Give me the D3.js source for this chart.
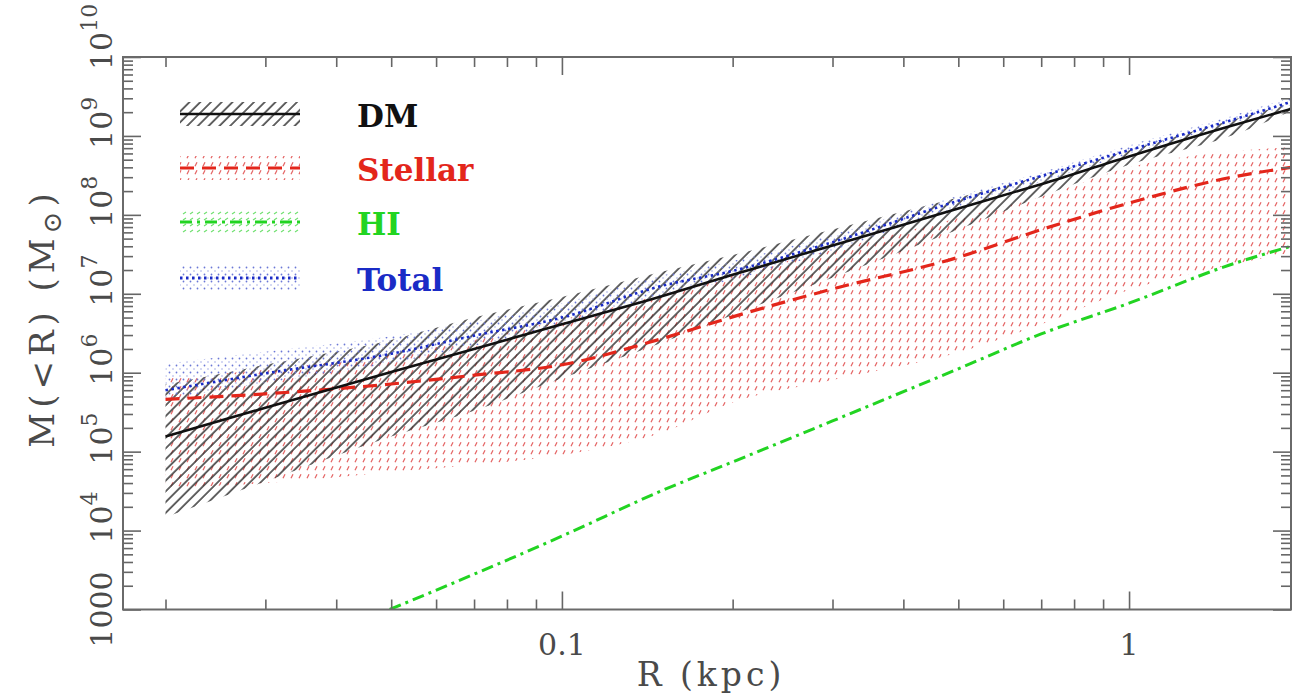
<!DOCTYPE html>
<html><head><meta charset="utf-8">
<script src="https://cdn.jsdelivr.net/npm/d3@7"></script>
<style>body{margin:0;background:#fff} svg{display:block}</style>
</head><body><svg id="c" width="1293" height="695"></svg>
<script>
// ---------- data ----------
const radius      = [0.02, 0.03, 0.05, 0.07, 0.1, 0.15, 0.2, 0.3, 0.5, 0.7, 1.0, 1.5, 1.93];
const dmMass      = [1.55e5, 3.6e5, 1.02e6, 2.0e6, 4.1e6, 9.3e6, 1.74e7, 4.1e7, 1.2e8, 2.45e8, 5.5e8, 1.32e9, 2.2e9];
const dmLow       = [1.48e4, 4.2e4, 1.55e5, 3.3e5, 8.5e5, 2.4e6, 5.4e6, 1.6e7, 6.5e7, 1.7e8, 4.3e8, 9.8e8, 2.05e9];
const dmHigh      = [7.1e5, 1.26e6, 2.6e6, 5.0e6, 9.1e6, 1.9e7, 3.1e7, 6.5e7, 1.66e8, 3.1e8, 6.6e8, 1.55e9, 2.6e9];
const stellarMass = [4.6e5, 5.4e5, 7.2e5, 9.3e5, 1.26e6, 2.7e6, 5.1e6, 1.15e7, 2.9e7, 6.5e7, 1.41e8, 2.95e8, 4.0e8];
const stellarLow  = [3.5e4, 4.0e4, 5.5e4, 6.8e4, 9.1e4, 1.74e5, 4.2e5, 8.1e5, 1.8e6, 4.1e6, 1.12e7, 2.3e7, 3.3e7];
const stellarHigh = [8.5e5, 1.1e6, 1.7e6, 2.6e6, 4.7e6, 9.8e6, 1.74e7, 3.6e7, 9.1e7, 1.7e8, 4.0e8, 6.3e8, 7.2e8];
const totalMass   = [6.0e5, 9.8e5, 1.74e6, 2.95e6, 5.0e6, 1.26e7, 1.95e7, 4.5e7, 1.51e8, 3.1e8, 6.6e8, 1.55e9, 2.7e9];
const totalLow    = [4.6e5, 7.4e5, 1.32e6, 2.2e6, 3.8e6, 9.5e6, 1.5e7, 3.5e7, 1.26e8, 2.6e8, 5.9e8, 1.41e9, 2.45e9];
const totalHigh   = [1.3e6, 1.85e6, 2.9e6, 4.5e6, 7.6e6, 1.7e7, 2.6e7, 5.6e7, 1.75e8, 3.45e8, 7.6e8, 1.75e9, 3.1e9];
const hiRadius    = [0.0497, 0.07, 0.1, 0.15, 0.2, 0.3, 0.5, 0.7, 1.0, 1.5, 1.93];
const hiMass      = [1.0e3, 2.8e3, 8.5e3, 3.2e4, 7.4e4, 2.45e5, 1.12e6, 3.1e6, 7.6e6, 2.3e7, 4.0e7];

const xTickValues = [0.1, 1];
const xTickLabels = ["0.1", "1"];
const yTickValues = [1e3, 1e4, 1e5, 1e6, 1e7, 1e8, 1e9, 1e10];
const yTickBase   = ["1000", "10", "10", "10", "10", "10", "10", "10"];
const yTickExp    = ["", "4", "5", "6", "7", "8", "9", "10"];

const legendNames  = ["DM", "Stellar", "HI", "Total"];
const legendColors = ["#111111", "#e3261b", "#22d422", "#1a2bc6"];

// ---------- setup ----------
const svg = d3.select("#c");
const P = {left:123, right:1291, top:57, bottom:609.5};
const x = d3.scaleLog().domain([0.01683, 1.93]).range([P.left, P.right]);
const y = d3.scaleLog().domain([1e3, 1e10]).range([P.bottom, P.top]);

const defs = svg.append("defs");
defs.append("clipPath").attr("id","clip").append("rect")
  .attr("x",P.left).attr("y",P.top).attr("width",P.right-P.left).attr("height",P.bottom-P.top);

const pDM = defs.append("pattern").attr("id","dmHatch").attr("patternUnits","userSpaceOnUse")
  .attr("width",7.6).attr("height",7.6).attr("patternTransform","rotate(45)");
pDM.append("line").attr("x1",1).attr("y1",0).attr("x2",1).attr("y2",7.6)
  .attr("stroke","#333").attr("stroke-width",1.5);

const pSt = defs.append("pattern").attr("id","stHatch").attr("patternUnits","userSpaceOnUse")
  .attr("width",8).attr("height",8);
pSt.append("line").attr("x1",3).attr("y1",6.2).attr("x2",5).attr("y2",2.2)
  .attr("stroke","#e46464").attr("stroke-width",1.3);

const pTo = defs.append("pattern").attr("id","toDots").attr("patternUnits","userSpaceOnUse")
  .attr("width",7).attr("height",7);
pTo.append("circle").attr("cx",1.5).attr("cy",1.5).attr("r",0.9).attr("fill","#6b78d6");
pTo.append("circle").attr("cx",5).attr("cy",5).attr("r",0.7).attr("fill","#8a94e0");

const pHI = defs.append("pattern").attr("id","hiDots").attr("patternUnits","userSpaceOnUse")
  .attr("width",7).attr("height",6);
pHI.append("line").attr("x1",1).attr("y1",4).attr("x2",4).attr("y2",2)
  .attr("stroke","#6ee06e").attr("stroke-width",1.2);

const rows = (m, lo, hi) => radius.map((r,i)=>({r, m:m[i], lo:lo[i], hi:hi[i]}));
const dmRows = rows(dmMass, dmLow, dmHigh);
const stRows = rows(stellarMass, stellarLow, stellarHigh);
const toRows = rows(totalMass, totalLow, totalHigh);
const hiRows = hiRadius.map((r,i)=>({r, m:hiMass[i]}));

const area = d3.area().x(d=>x(d.r)).y0(d=>y(d.lo)).y1(d=>y(d.hi)).curve(d3.curveMonotoneX);
const line = d3.line().x(d=>x(d.r)).y(d=>y(d.m)).curve(d3.curveMonotoneX);

const g = svg.append("g").attr("clip-path","url(#clip)");
g.append("path").datum(stRows).attr("d",area).attr("fill","url(#stHatch)");
g.append("path").datum(dmRows).attr("d",area).attr("fill","url(#dmHatch)");
g.append("path").datum(toRows).attr("d",area).attr("fill","url(#toDots)");

g.append("path").datum(hiRows).attr("d",line).attr("fill","none")
  .attr("stroke","#22d422").attr("stroke-width",3).attr("stroke-dasharray","12 5 3 5");
g.append("path").datum(stRows).attr("d",line).attr("fill","none")
  .attr("stroke","#e3261b").attr("stroke-width",3.2).attr("stroke-dasharray","14 8");
g.append("path").datum(dmRows).attr("d",line).attr("fill","none")
  .attr("stroke","#111").attr("stroke-width",2.6);
g.append("path").datum(toRows).attr("d",line).attr("fill","none")
  .attr("stroke","#1a2bc6").attr("stroke-width",2.6).attr("stroke-dasharray","2.5 3.5");

// ---------- axes (ticks inward on all sides) ----------
const xMinor = [];
[0.01, 0.1, 1].forEach(d => { for (let k=2;k<=9;k++){ const v=k*d; if (v>=0.01683 && v<=1.93) xMinor.push(v);} });
const yMinor = [];
for (let e=3;e<10;e++) for (let k=2;k<=9;k++) yMinor.push(k*Math.pow(10,e));

function styleAxis(sel){
  sel.select(".domain").remove();
  sel.selectAll(".tick line").attr("stroke","#666").attr("stroke-width",1.6);
  sel.selectAll(".tick text").remove();
}
const axes = [
  [d3.axisBottom(x), `translate(0,${P.bottom})`, xTickValues, xMinor],
  [d3.axisTop(x),    `translate(0,${P.top})`,    xTickValues, xMinor],
  [d3.axisLeft(y),   `translate(${P.left},0)`,   yTickValues, yMinor],
  [d3.axisRight(y),  `translate(${P.right},0)`,  yTickValues, yMinor]
];
axes.forEach(([ax, tr, major, minor])=>{
  svg.append("g").attr("transform",tr).call(ax.tickValues(major).tickSizeInner(-18).tickSizeOuter(0)).call(styleAxis);
  svg.append("g").attr("transform",tr).call(ax.tickValues(minor).tickSizeInner(-10).tickSizeOuter(0)).call(styleAxis);
});
svg.append("rect").attr("x",P.left).attr("y",P.top).attr("width",P.right-P.left).attr("height",P.bottom-P.top)
  .attr("fill","none").attr("stroke","#6a6a6a").attr("stroke-width",2);

// tick labels
const font = "'DejaVu Serif', serif";
svg.append("g").selectAll("text").data(xTickValues).join("text")
  .attr("x",d=>x(d)).attr("y",655).attr("text-anchor","middle")
  .attr("font-family",font).attr("font-size",30).attr("fill","#4a4a4a")
  .text((d,i)=>xTickLabels[i]);

yTickValues.forEach((v,i)=>{
  const t = svg.append("text")
    .attr("transform",`translate(112,${y(v)}) rotate(-90)`)
    .attr("font-family",font).attr("font-size",30).attr("fill","#4a4a4a");
  if (yTickExp[i]==="") {
    t.attr("text-anchor","middle").text(yTickBase[i]);
  } else {
    t.attr("x",-13).attr("text-anchor","start");
    t.append("tspan").text(yTickBase[i]);
    t.append("tspan").attr("font-size",22).attr("dy",-15).text(yTickExp[i]);
  }
});

// axis titles
svg.append("text").attr("x",(P.left+P.right)/2 + 4).attr("y",686).attr("text-anchor","middle")
  .attr("font-family",font).attr("font-size",33).attr("letter-spacing",4).attr("fill","#4a4a4a")
  .text("R (kpc)");
const yt = svg.append("text").attr("transform","translate(54,318) rotate(-90)").attr("text-anchor","middle")
  .attr("font-family",font).attr("font-size",34).attr("letter-spacing",5).attr("fill","#4a4a4a");
yt.append("tspan").text("M(<R) (M");
yt.append("tspan").attr("font-size",26).attr("dy",7).text("⊙");
yt.append("tspan").attr("dy",-7).text(")");

// ---------- legend ----------
const legY = [114, 168, 222, 278];
const legPatterns = ["url(#dmHatch)","url(#stHatch)","url(#hiDots)","url(#toDots)"];
const legDash = [null, "14 8", "12 5 3 5", "2.5 3.5"];
const lg = svg.append("g");
legendNames.forEach((name,i)=>{
  lg.append("rect").attr("x",180).attr("y",legY[i]-12).attr("width",120).attr("height",24)
    .attr("fill",legPatterns[i]);
  lg.append("line").attr("x1",180).attr("x2",300).attr("y1",legY[i]).attr("y2",legY[i])
    .attr("stroke",legendColors[i]).attr("stroke-width",i===0?2.6:3)
    .attr("stroke-dasharray",legDash[i]);
  lg.append("text").attr("x",357).attr("y",legY[i]+2).attr("dy","0.35em")
    .attr("font-family","'DejaVu Serif', serif").attr("font-weight","bold").attr("font-size",31)
    .attr("fill",legendColors[i]).text(name);
});
</script></body></html>
